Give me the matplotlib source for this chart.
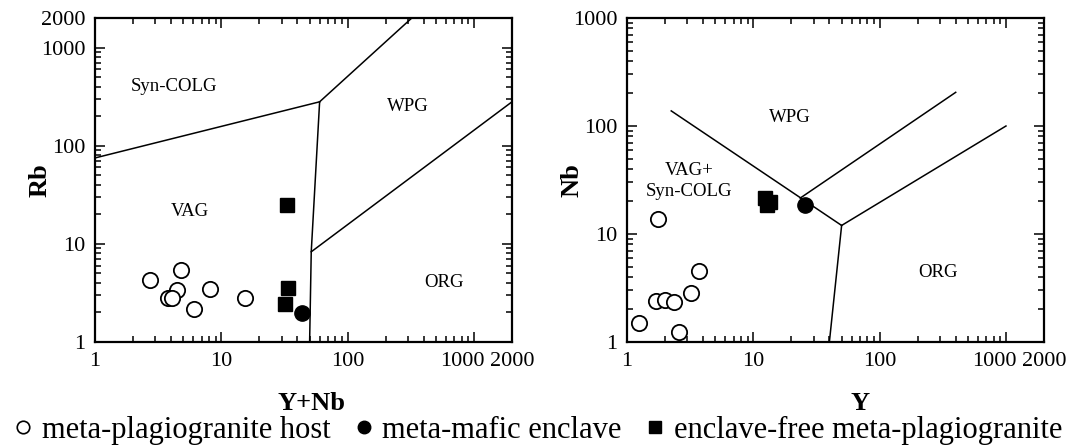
import numpy as np
import matplotlib
matplotlib.use("Agg")
import matplotlib.pyplot as plt
from matplotlib.lines import Line2D
import matplotlib.transforms as mtransforms

plt.rcParams['font.family'] = ['Liberation Serif', 'DejaVu Serif']

# --- data: Rb vs Y+Nb ---
host_yn = [2.73, 4.77, 4.43, 3.80, 4.05, 6.11, 8.18, 15.5]
host_rb = [4.29, 5.38, 3.39, 2.79, 2.83, 2.17, 3.47, 2.83]
mafic_yn = [43.3]
mafic_rb = [1.99]
free_yn = [33.3, 33.9, 31.9]
free_rb = [24.9, 3.53, 2.42]

# --- data: Nb vs Y ---
host_y = [1.77, 3.74, 3.21, 1.70, 2.0, 2.36, 1.24, 2.58]
host_nb = [13.8, 4.57, 2.86, 2.41, 2.45, 2.33, 1.49, 1.25]
mafic_y = [25.5]
mafic_nb = [18.6]
free_y = [12.4, 13.6, 12.8]
free_nb = [21.4, 19.9, 18.6]

# field boundaries (Pearce et al. 1984 as drawn)
rb_lines = [
    ([1, 60], [75, 280]),
    ([60, 322], [280, 2000]),
    ([60, 51.5, 50], [280, 8.3, 1]),
    ([51.5, 2000], [8.3, 280]),
]
nb_lines = [
    ([2.24, 50], [138, 12]),
    ([50, 40], [12, 1]),
    ([50, 1000], [12, 100]),
    ([23.5, 400], [21.5, 205]),
]

xticks = [1, 10, 100, 1000, 2000]
xlabels = ['1', '10', '100', '1000', '2000']

fig = plt.figure(figsize=(10.70, 4.48), dpi=100)
W, H = 1070, 448
ax1 = fig.add_axes([95 / W, 1 - 342 / H, 417 / W, 324 / H])
ax2 = fig.add_axes([627 / W, 1 - 342 / H, 417 / W, 324 / H])


def setup(ax, ymax, yticks, ylabels):
    ax.set_xscale('log')
    ax.set_yscale('log')
    ax.set_xlim(1, 2000)
    ax.set_ylim(1, ymax)
    ax.set_xticks(xticks)
    ax.set_xticklabels(xlabels)
    ax.set_yticks(yticks)
    ax.set_yticklabels(ylabels)
    ax.xaxis.set_minor_locator(matplotlib.ticker.LogLocator(subs=np.arange(2, 10)))
    ax.yaxis.set_minor_locator(matplotlib.ticker.LogLocator(subs=np.arange(2, 10)))
    ax.xaxis.set_minor_formatter(matplotlib.ticker.NullFormatter())
    ax.yaxis.set_minor_formatter(matplotlib.ticker.NullFormatter())
    ax.tick_params(which='both', direction='in', top=True, right=True, width=1.1)
    ax.tick_params(which='major', length=7, labelsize=16, pad=7)
    ax.tick_params(which='minor', length=4)
    for s in ax.spines.values():
        s.set_linewidth(1.6)
    # pull "1000" label left so it does not collide with "2000"
    lab = ax.get_xticklabels()[3]
    lab.set_transform(lab.get_transform() + mtransforms.ScaledTranslation(-12 / 100, 0, fig.dpi_scale_trans))


def points(ax, hx, hy, mx, my, fx, fy):
    ax.plot(hx, hy, 'o', ms=11, mfc='white', mec='black', mew=1.3, ls='none', zorder=3)
    ax.plot(fx, fy, 's', ms=10, mfc='black', mec='black', ls='none', zorder=3)
    ax.plot(mx, my, 'o', ms=11, mfc='black', mec='black', ls='none', zorder=3)


setup(ax1, 2000, [1, 10, 100, 1000, 2000], ['1', '10', '100', '1000', '2000'])
for lx, ly in rb_lines:
    ax1.plot(lx, ly, color='black', lw=1.1, zorder=2)
points(ax1, host_yn, host_rb, mafic_yn, mafic_rb, free_yn, free_rb)
ax1.text(4.2, 400, 'Syn-COLG', fontsize=13.5, ha='center', va='center')
ax1.text(300, 250, 'WPG', fontsize=13.5, ha='center', va='center')
ax1.text(5.6, 21.6, 'VAG', fontsize=13.5, ha='center', va='center')
ax1.text(580, 4.0, 'ORG', fontsize=13.5, ha='center', va='center')
ax1.set_ylabel('Rb', fontsize=19, fontweight='bold')
ax1.yaxis.set_label_coords(-0.105, 0.5)
ax1.set_xlabel('Y+Nb', fontsize=19, fontweight='bold')
ax1.xaxis.set_label_coords(0.52, -0.155)

setup(ax2, 1000, [1, 10, 100, 1000], ['1', '10', '100', '1000'])
for lx, ly in nb_lines:
    ax2.plot(lx, ly, color='black', lw=1.1, zorder=2)
points(ax2, host_y, host_nb, mafic_y, mafic_nb, free_y, free_nb)
ax2.text(19.5, 121, 'WPG', fontsize=13.5, ha='center', va='center')
ax2.text(3.1, 31, 'VAG+\nSyn-COLG', fontsize=13.5, ha='center', va='center', linespacing=1.3)
ax2.text(290, 4.4, 'ORG', fontsize=13.5, ha='center', va='center')
ax2.set_ylabel('Nb', fontsize=19, fontweight='bold')
ax2.yaxis.set_label_coords(-0.105, 0.5)
ax2.set_xlabel('Y', fontsize=19, fontweight='bold')
ax2.xaxis.set_label_coords(0.56, -0.155)

handles = [
    Line2D([], [], marker='o', ls='none', ms=9, mfc='white', mec='black', mew=1.2),
    Line2D([], [], marker='o', ls='none', ms=9, mfc='black', mec='black'),
    Line2D([], [], marker='s', ls='none', ms=9, mfc='black', mec='black'),
]
labels = ['meta-plagiogranite host', 'meta-mafic enclave', 'enclave-free meta-plagiogranite']
fig.legend(handles, labels, loc='center', bbox_to_anchor=(0.5, 18 / H), ncol=3,
           frameon=False, fontsize=22, handletextpad=0.1, columnspacing=0.6,
           handlelength=1.0, borderaxespad=0)

fig.savefig('out.png', dpi=100)
